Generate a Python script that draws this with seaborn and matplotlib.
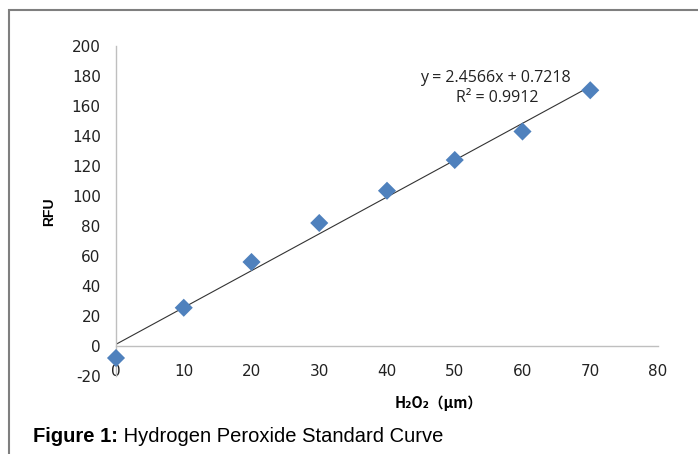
import matplotlib
matplotlib.use("Agg")
import matplotlib.pyplot as plt
from matplotlib.patches import Rectangle
from matplotlib import font_manager
import numpy as np
import pandas as pd
import seaborn as sns

# H2O2 standard curve readings
h2o2_um = [0, 10, 20, 30, 40, 50, 60, 70]
rfu = [-8, 25.5, 56, 82, 103.5, 124, 143, 170.5]
x_ticks = [0, 10, 20, 30, 40, 50, 60, 70, 80]
y_ticks = [-20, 0, 20, 40, 60, 80, 100, 120, 140, 160, 180, 200]
equation = "y = 2.4566x + 0.7218"
r_squared = "R² = 0.9912"
caption_bold = "Figure 1:"
caption_text = " Hydrogen Peroxide Standard Curve"

df = pd.DataFrame({"h2o2": h2o2_um, "rfu": rfu})

sns.set_theme(style="white")
names = {f.name for f in font_manager.fontManager.ttflist}
tick_font = "Liberation Sans Narrow" if "Liberation Sans Narrow" in names else "DejaVu Sans"
plt.rcParams["font.family"] = ["Liberation Sans", "DejaVu Sans"]
plt.rcParams["axes.unicode_minus"] = False

fig = plt.figure(figsize=(6.98, 4.54), dpi=100)
ax = fig.add_axes([116 / 698, 1 - 376 / 454, 542 / 698, 330 / 454])

sns.regplot(data=df, x="h2o2", y="rfu", ax=ax, ci=None, marker="D",
            scatter_kws={"s": 85, "color": "#4F81BD", "alpha": 1, "edgecolors": "none",
                         "zorder": 3, "clip_on": False},
            line_kws={"color": "#333333", "lw": 0.8, "zorder": 2})

ax.set_xlim(0, 80)
ax.set_ylim(-20, 200)
ax.set_xticks(x_ticks)
ax.set_yticks(y_ticks)

for side in ["top", "right"]:
    ax.spines[side].set_visible(False)
ax.spines["bottom"].set_position(("data", 0))
for side in ["left", "bottom"]:
    ax.spines[side].set_color("#BFBFBF")
    ax.spines[side].set_linewidth(1.0)

ax.tick_params(axis="both", which="both", direction="out", length=5, width=1,
               color="#BFBFBF", labelsize=11, labelcolor="#222222")
ax.tick_params(axis="x", pad=8)
ax.tick_params(axis="y", pad=6)
for lab in ax.get_xticklabels() + ax.get_yticklabels():
    lab.set_fontfamily(tick_font)

ax.set_xlabel("H₂O₂（μm）", fontsize=10.5, fontweight="bold", color="black",
              family=["Noto Sans CJK SC", "DejaVu Sans"])
ax.xaxis.set_label_coords((439 - 116) / 542, (376 - 395) / 330)
ax.set_ylabel("RFU", fontsize=10, fontweight="bold", color="black",
              family=["Liberation Sans", "DejaVu Sans"])
ax.yaxis.set_label_coords((56 - 116) / 542, (376 - 212) / 330)

# annotation positions in pixels from top-left
for txt, px, py in [(equation, 495, 78), (r_squared, 497, 98)]:
    fig.text(px / 698, 1 - py / 454, txt, fontsize=11.5, ha="center", va="center",
             family=["Open Sans", "DejaVu Sans"], color="#222222")

# figure frame
fig.patches.append(Rectangle((9 / 698, -0.1), 1.2, 1 - 10 / 454 + 0.1,
                             transform=fig.transFigure, fill=False,
                             edgecolor="#7F7F7F", lw=1.5))

cap1 = fig.text(33 / 698, 1 - 437 / 454, caption_bold, fontsize=14.5, fontweight="bold",
                va="center", ha="left", color="black")
fig.canvas.draw()
bb = cap1.get_window_extent()
fig.text(bb.x1 / 698, 1 - 437 / 454, caption_text, fontsize=14.5, va="center", ha="left",
         color="black")

fig.savefig("out.png", dpi=100)
